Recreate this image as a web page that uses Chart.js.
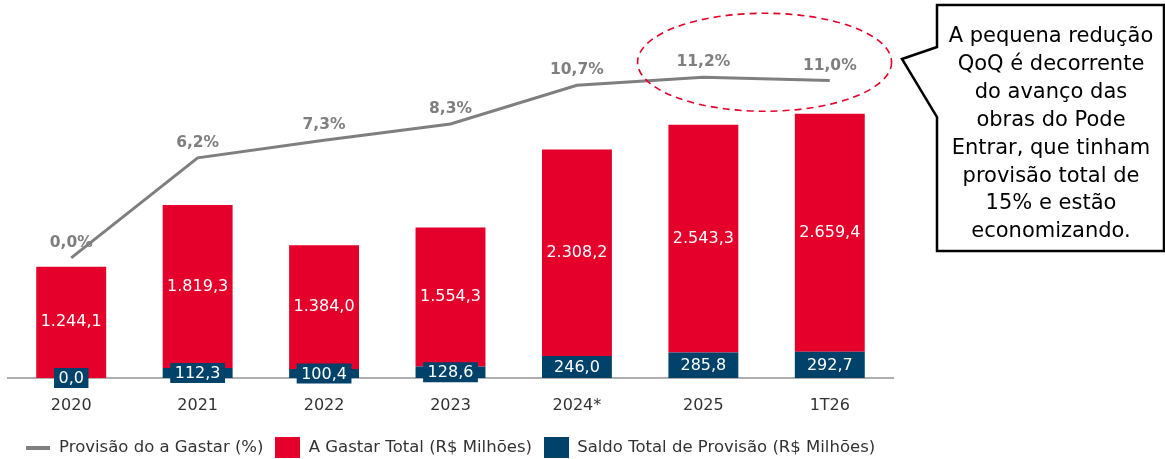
<!DOCTYPE html>
<html>
<head>
<meta charset="utf-8">
<script src="https://cdn.jsdelivr.net/npm/chart.js@4.4.1/dist/chart.umd.min.js"></script>
<style>
  html, body { margin: 0; padding: 0; background: #fff; overflow: hidden; }
  #wrap { position: relative; width: 1165px; height: 459px; overflow: hidden; }
  #grafico { position: absolute; left: 0; top: 0; }
  #balao { position: absolute; left: 0; top: 0; }
  #textoBalao {
    position: absolute; left: 937px; top: 22px; width: 228px;
    font-family: "DejaVu Sans", sans-serif; font-size: 21px;
    line-height: 27.9px; color: #000; text-align: center;
  }
</style>
</head>
<body>
<div id="wrap">
  <canvas id="grafico" width="1165" height="466"></canvas>
  <svg id="balao" width="1165" height="459">
    <path d="M937 5 L1164 5 L1164 251 L937 251 L937 117 L902 59 L937 47 Z"
          fill="#fff" stroke="#000" stroke-width="2.5" stroke-linejoin="miter"/>
  </svg>
  <div id="textoBalao">A pequena redução<br>QoQ é decorrente<br>do avanço das<br>obras do Pode<br>Entrar, que tinham<br>provisão total de<br>15% e estão<br>economizando.</div>
</div>
<script>
// dados do gráfico
const categorias = ["2020", "2021", "2022", "2023", "2024*", "2025", "1T26"];
const provisaoPct = [0.0, 6.2, 7.3, 8.3, 10.7, 11.2, 11.0];
const aGastarTotal = [1244.1, 1819.3, 1384.0, 1554.3, 2308.2, 2543.3, 2659.4];
const saldoProvisao = [0.0, 112.3, 100.4, 128.6, 246.0, 285.8, 292.7];

const VERMELHO = "#E4002B";
const AZUL = "#00426A";
const CINZA = "#7F7F7F";
const FONTE = '"DejaVu Sans", sans-serif';

function fmt(v, casas) {
  return v.toLocaleString("pt-BR", { minimumFractionDigits: casas, maximumFractionDigits: casas });
}

// marcadores da legenda
function marcador(cor, w, h) {
  const c = document.createElement("canvas");
  c.width = w;
  c.height = h;
  const cx = c.getContext("2d");
  cx.fillStyle = cor;
  cx.fillRect(0, 0, w, h);
  return c;
}
const marcadores = [marcador(CINZA, 24, 4), marcador(AZUL, 25, 21), marcador(VERMELHO, 25, 21)];

const rotulosPlugin = {
  id: "rotulos",
  afterDatasetsDraw(chart) {
    const ctx = chart.ctx;
    ctx.save();
    ctx.textAlign = "center";
    ctx.textBaseline = "middle";

    // rotulos da linha
    const metaLinha = chart.getDatasetMeta(0);
    ctx.font = "bold 15.5px " + FONTE;
    ctx.fillStyle = "#7F7F7F";
    metaLinha.data.forEach((p, i) => {
      ctx.fillText(fmt(provisaoPct[i], 1) + "%", p.x, p.y - 15);
    });

    // rotulos A Gastar
    const metaVerm = chart.getDatasetMeta(2);
    ctx.font = "16px " + FONTE;
    ctx.fillStyle = "#fff";
    metaVerm.data.forEach((b, i) => {
      ctx.fillText(fmt(aGastarTotal[i], 1), b.x, (b.y + b.base) / 2);
    });

    // rotulos Saldo com fundo
    const metaAzul = chart.getDatasetMeta(1);
    metaAzul.data.forEach((b, i) => {
      const txt = fmt(saldoProvisao[i], 1);
      const cy = (b.y + b.base) / 2;
      const w = ctx.measureText(txt).width + 9;
      ctx.fillStyle = AZUL;
      ctx.fillRect(b.x - w / 2, cy - 10, w, 20);
      ctx.fillStyle = "#fff";
      ctx.fillText(txt, b.x, cy + 1);
    });

    // elipse tracejada em volta dos dois ultimos pontos
    const n = metaLinha.data.length;
    const pA = metaLinha.data[n - 2];
    const pB = metaLinha.data[n - 1];
    ctx.beginPath();
    ctx.setLineDash([7, 5]);
    ctx.strokeStyle = VERMELHO;
    ctx.lineWidth = 1.6;
    ctx.ellipse((pA.x + pB.x) / 2 - 2, Math.min(pA.y, pB.y) - 15, 127, 49, 0, 0, Math.PI * 2);
    ctx.stroke();
    ctx.restore();
  },
};

new Chart(document.getElementById("grafico"), {
  type: "bar",
  data: {
    labels: categorias,
    datasets: [
      {
        type: "line",
        label: "Provisão do a Gastar (%)",
        data: provisaoPct,
        borderColor: CINZA,
        backgroundColor: CINZA,
        borderWidth: 3,
        pointRadius: 0,
        tension: 0,
        yAxisID: "y1",
      },
      {
        label: "Saldo Total de Provisão (R$ Milhões)",
        data: saldoProvisao,
        backgroundColor: AZUL,
        stack: "s",
        yAxisID: "y",
      },
      {
        label: "A Gastar Total (R$ Milhões)",
        data: aGastarTotal,
        backgroundColor: VERMELHO,
        stack: "s",
        yAxisID: "y",
      },
    ],
  },
  plugins: [rotulosPlugin],
  options: {
    responsive: false,
    animation: false,
    layout: { padding: { left: 8, right: 272, top: 20, bottom: 0 } },
    datasets: {
      bar: { categoryPercentage: 1, barPercentage: 0.553 },
    },
    plugins: {
      tooltip: { enabled: false },
      legend: {
        position: "bottom",
        labels: {
          usePointStyle: true,
          pointStyleWidth: 25,
          padding: 12,
          color: "#333",
          font: { family: FONTE, size: 16.5 },
          generateLabels(chart) {
            // ordem da legenda: linha, vermelho, azul
            return [0, 2, 1].map((i) => {
              const ds = chart.data.datasets[i];
              return {
                text: ds.label,
                pointStyle: marcadores[i],
                fillStyle: ds.backgroundColor,
                strokeStyle: ds.backgroundColor,
                lineWidth: 0,
                fontColor: "#333",
                datasetIndex: i,
              };
            });
          },
        },
      },
    },
    scales: {
      x: {
        stacked: true,
        grid: { display: false, drawTicks: false },
        border: { display: true, color: "#AFAFAF", width: 2 },
        ticks: { color: "#333", font: { family: FONTE, size: 16 }, padding: 18 },
        afterFit(scale) {
          scale.height = 49.5;
        },
      },
      y: { stacked: true, display: false, min: 0, max: 4000 },
      y1: { display: false, min: -7.45, max: 14.75 },
    },
  },
});
</script>
</body>
</html>
